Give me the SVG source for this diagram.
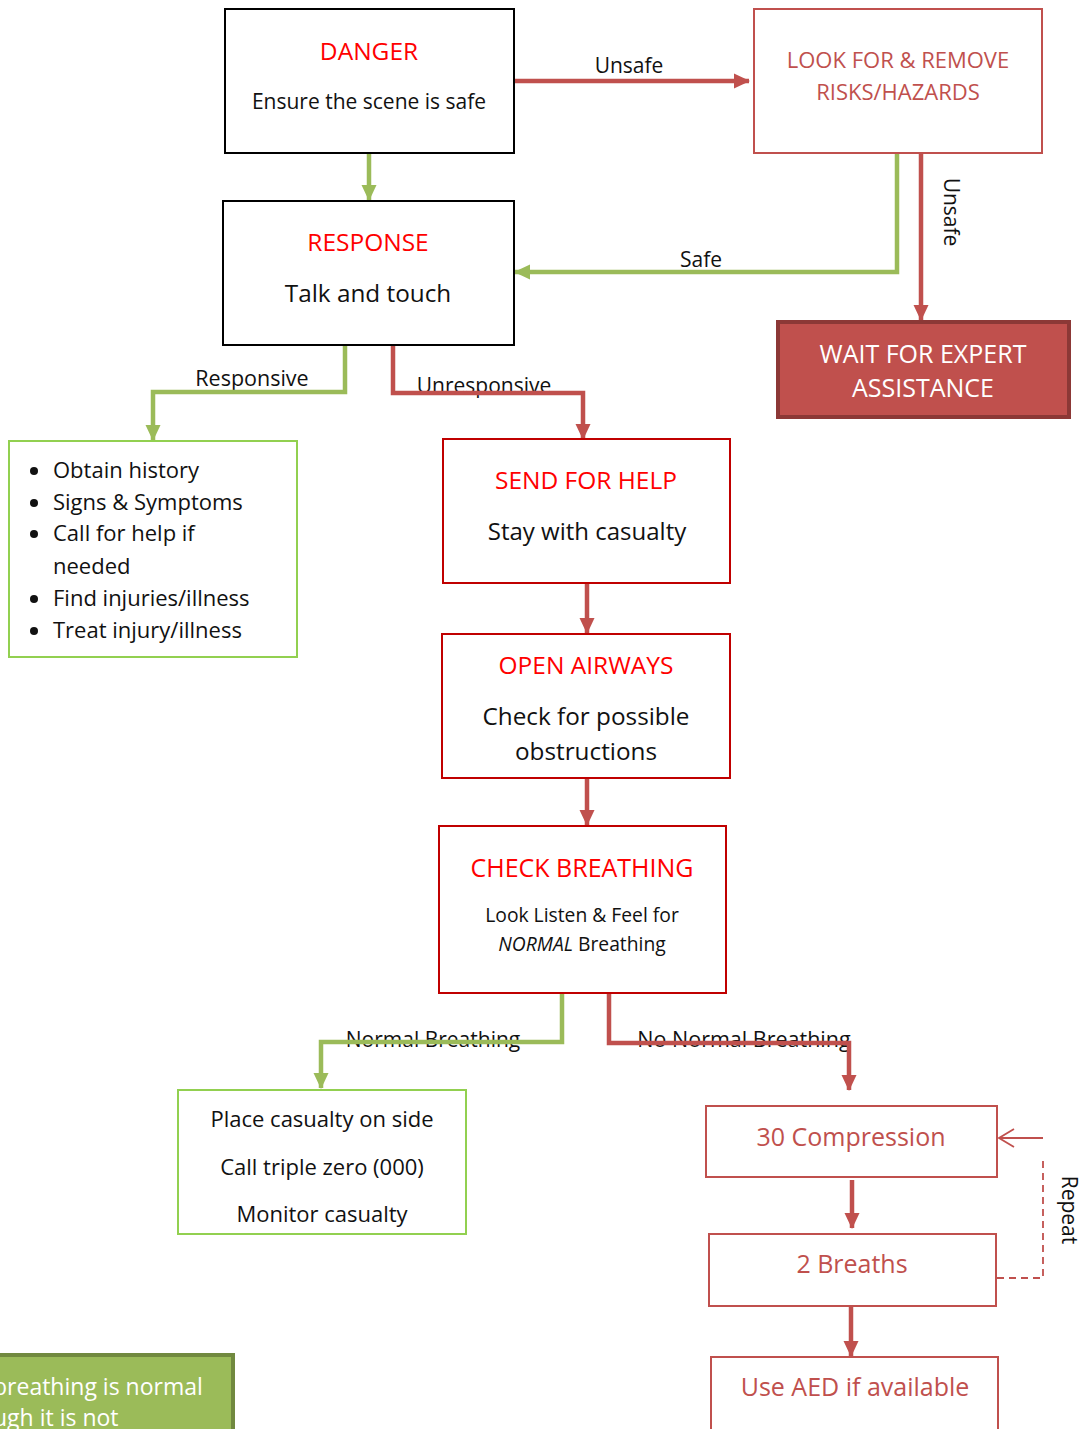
<svg xmlns="http://www.w3.org/2000/svg" width="1080" height="1429" viewBox="0 0 1080 1429">
<defs>
<style>
text{font-family:"Open Sans","Noto Sans","Liberation Sans",sans-serif;}
.title{fill:#FF0000;font-size:24.5px;text-anchor:middle;}
.body{fill:#111;font-size:22px;text-anchor:middle;}
.lbl{fill:#111;font-size:21px;}
.rtxt{fill:#C0504D;font-size:25px;text-anchor:middle;}
.blk{fill:#fff;stroke:#000;stroke-width:2;}
.dred{fill:#fff;stroke:#C00000;stroke-width:2;}
.lred{fill:#fff;stroke:#C0504D;stroke-width:2;}
.lgrn{fill:#fff;stroke:#92D050;stroke-width:2;}
.cr{fill:none;stroke:#C0504D;stroke-width:4.5;}
.cg{fill:none;stroke:#9BBB59;stroke-width:4.5;}
</style>
<marker id="ar" markerUnits="userSpaceOnUse" markerWidth="16" markerHeight="16" viewBox="0 0 16 16" refX="15" refY="8" orient="auto">
<path d="M0,0.5 L16,8 L0,15.5 z" fill="#C0504D"/>
</marker>
<marker id="ag" markerUnits="userSpaceOnUse" markerWidth="16" markerHeight="16" viewBox="0 0 16 16" refX="15" refY="8" orient="auto">
<path d="M0,0.5 L16,8 L0,15.5 z" fill="#9BBB59"/>
</marker>
</defs>
<rect width="1080" height="1429" fill="#fff"/>

<g id="labels">
<text class="lbl" x="629" y="73" text-anchor="middle">Unsafe</text>
<text class="lbl" x="701" y="267" text-anchor="middle">Safe</text>
<text class="lbl" x="944" y="212" text-anchor="middle" transform="rotate(90 944 212)">Unsafe</text>
<text class="lbl" x="252" y="386" text-anchor="middle" style="font-size:21.5px">Responsive</text>
<text class="lbl" x="484" y="393" text-anchor="middle">Unresponsive</text>
<text class="lbl" x="433" y="1047" text-anchor="middle">Normal Breathing</text>
<text class="lbl" x="744" y="1047" text-anchor="middle" style="font-size:21.5px">No Normal Breathing</text>
<text class="lbl" x="1062" y="1210" text-anchor="middle" transform="rotate(90 1062 1210)">Repeat</text>
</g>

<g id="connectors">
<path class="cg" d="M369,153 V200" marker-end="url(#ag)"/>
<path class="cr" d="M514,81 H749" marker-end="url(#ar)"/>
<path class="cg" d="M897,153 V272 H515" marker-end="url(#ag)"/>
<path class="cr" d="M921,153 V320" marker-end="url(#ar)"/>
<path class="cg" d="M345,345 V392 H153 V440" marker-end="url(#ag)"/>
<path class="cr" d="M393,345 V393 H583 V439" marker-end="url(#ar)"/>
<path class="cr" d="M587,583 V633" marker-end="url(#ar)"/>
<path class="cr" d="M587,778 V825" marker-end="url(#ar)"/>
<path class="cg" d="M562,993 V1042 H321 V1088" marker-end="url(#ag)"/>
<path class="cr" d="M609,993 V1043 H849 V1090" marker-end="url(#ar)"/>
<path class="cr" d="M852,1180 V1228" marker-end="url(#ar)"/>
<path class="cr" d="M851,1307 V1356" marker-end="url(#ar)"/>
<path d="M997,1278 H1043 V1157" fill="none" stroke="#C0504D" stroke-width="1.8" stroke-dasharray="7,5"/>
<path d="M1043,1138 H999 M1014,1129 L999,1138 L1014,1147" fill="none" stroke="#C0504D" stroke-width="1.8"/>
</g>

<g id="danger">
<rect class="blk" x="225" y="9" width="289" height="144"/>
<text class="title" x="369" y="60">DANGER</text>
<text class="body" x="369" y="109" style="font-size:21px">Ensure the scene is safe</text>
</g>

<g id="look">
<rect class="lred" x="754" y="9" width="288" height="144"/>
<text class="rtxt" x="898" y="68" style="font-size:22px">LOOK FOR &amp; REMOVE</text>
<text class="rtxt" x="898" y="100" style="font-size:22px">RISKS/HAZARDS</text>
</g>

<g id="wait">
<rect x="778" y="322" width="291" height="95" fill="#C0504D" stroke="#8C3836" stroke-width="4"/>
<text x="923" y="363" fill="#fff" style="font-size:25px" text-anchor="middle">WAIT FOR EXPERT</text>
<text x="923" y="397" fill="#fff" style="font-size:25px" text-anchor="middle">ASSISTANCE</text>
</g>

<g id="response">
<rect class="blk" x="223" y="201" width="291" height="144"/>
<text class="title" x="368" y="251">RESPONSE</text>
<text class="body" x="368" y="302" style="font-size:24.3px">Talk and touch</text>
</g>

<g id="responsive-box">
<rect class="lgrn" x="9" y="441" width="288" height="216"/>
<g fill="#111">
<circle cx="34" cy="471" r="4"/>
<circle cx="34" cy="503" r="4"/>
<circle cx="34" cy="534" r="4"/>
<circle cx="34" cy="599" r="4"/>
<circle cx="34" cy="631" r="4"/>
</g>
<g class="lbl" style="font-size:22px">
<text x="53" y="478">Obtain history</text>
<text x="53" y="510">Signs &amp; Symptoms</text>
<text x="53" y="541">Call for help if</text>
<text x="53" y="574">needed</text>
<text x="53" y="606">Find injuries/illness</text>
<text x="53" y="638">Treat injury/illness</text>
</g>
</g>

<g id="send">
<rect class="dred" x="443" y="439" width="287" height="144"/>
<text class="title" x="586" y="489">SEND FOR HELP</text>
<text class="body" x="587" y="540" style="font-size:24px">Stay with casualty</text>
</g>

<g id="airways">
<rect class="dred" x="442" y="634" width="288" height="144"/>
<text class="title" x="586" y="674">OPEN AIRWAYS</text>
<text class="body" x="586" y="725" style="font-size:24.3px">Check for possible</text>
<text class="body" x="586" y="760" style="font-size:24.3px">obstructions</text>
</g>

<g id="breathing">
<rect class="dred" x="439" y="826" width="287" height="167"/>
<text class="title" x="582" y="877" style="font-size:25px">CHECK BREATHING</text>
<text class="body" x="582" y="922" style="font-size:19.3px">Look Listen &amp; Feel for</text>
<text class="body" x="582" y="951" style="font-size:19.3px"><tspan font-style="italic">NORMAL</tspan> Breathing</text>
</g>

<g id="place">
<rect class="lgrn" x="178" y="1090" width="288" height="144"/>
<text class="body" x="322" y="1127">Place casualty on side</text>
<text class="body" x="322" y="1175">Call triple zero (000)</text>
<text class="body" x="322" y="1222">Monitor casualty</text>
</g>

<g id="compression">
<rect class="lred" x="706" y="1106" width="291" height="71"/>
<text class="rtxt" x="851" y="1146">30 Compression</text>
</g>

<g id="breaths">
<rect class="lred" x="709" y="1234" width="287" height="72"/>
<text class="rtxt" x="852" y="1273">2 Breaths</text>
</g>

<g id="aed">
<rect class="lred" x="711" y="1357" width="287" height="90"/>
<text class="rtxt" x="855" y="1396">Use AED if available</text>
</g>

<g id="note">
<rect x="-20" y="1355" width="253" height="90" fill="#9BBB59" stroke="#71893F" stroke-width="4"/>
<text x="-7" y="1395" fill="#fff" style="font-size:23px">breathing is normal</text>
<text x="-7" y="1426" fill="#fff" style="font-size:23px">ugh it is not</text>
</g>
</svg>
